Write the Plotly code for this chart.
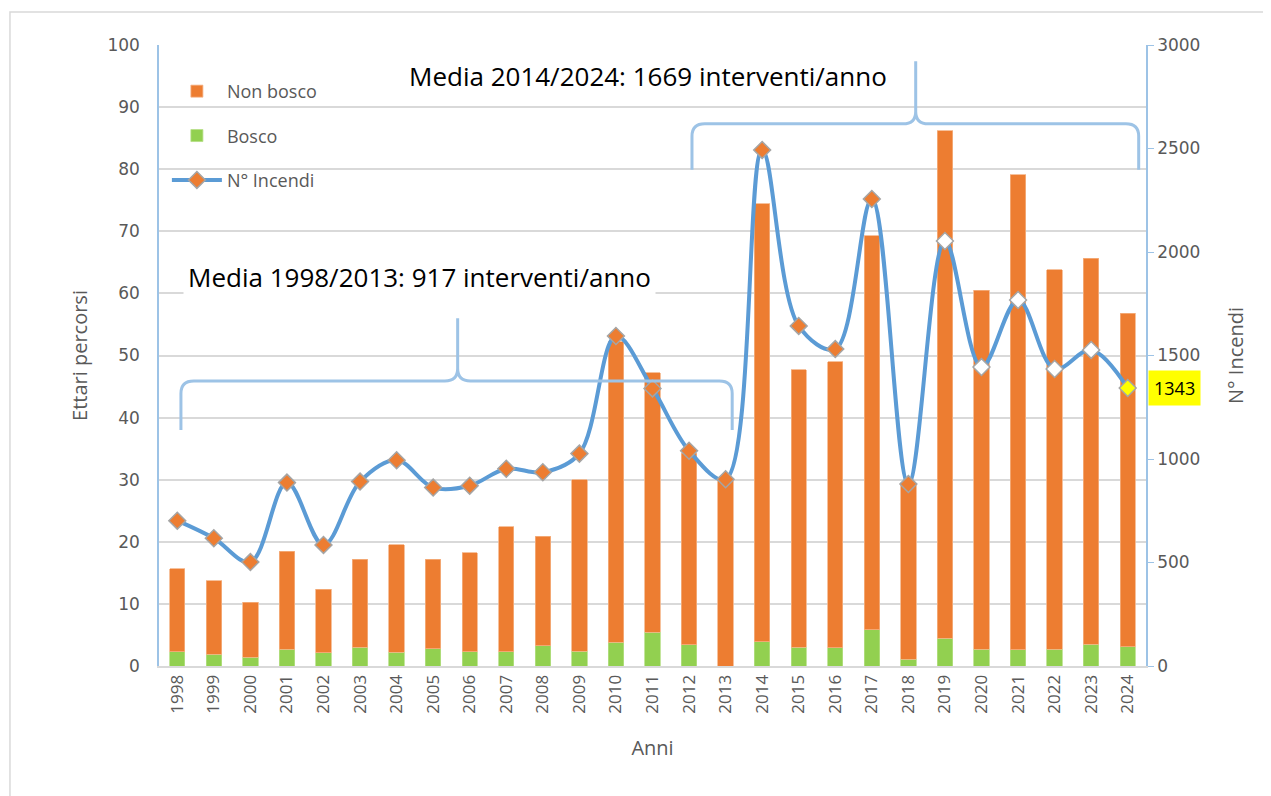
import plotly.graph_objects as go

# dati
anni = list(range(1998, 2025))
bosco = [2.3, 1.9, 1.4, 2.7, 2.1, 3.0, 2.2, 2.8, 2.3, 2.3, 3.3, 2.4, 3.8, 5.4, 3.4, 0.0,
         3.9, 3.0, 2.9, 5.8, 1.1, 4.5, 2.7, 2.6, 2.7, 3.5, 3.1]
totale = [15.7, 13.7, 10.3, 18.5, 12.4, 17.2, 19.5, 17.2, 18.2, 22.4, 20.9, 30.0, 52.2, 47.2, 34.3, 30.1,
          74.4, 47.7, 49.0, 69.3, 29.3, 86.2, 60.5, 79.1, 63.8, 65.7, 56.8]
non_bosco = [round(t - b, 1) for t, b in zip(totale, bosco)]
incendi = [702, 617, 502, 886, 585, 891, 994, 862, 871, 953, 936, 1026, 1594, 1341, 1040, 902,
           2493, 1643, 1531, 2256, 879, 2053, 1444, 1768, 1435, 1527, 1343]

testo_media1 = "Media 1998/2013: 917 interventi/anno"
testo_media2 = "Media 2014/2024: 1669 interventi/anno"

ARANCIO = '#ED7D31'
VERDE = '#92D050'
BLU = '#5B9BD5'
AZZURRO = '#9DC3E6'
GRIGIO = '#595959'

# colori marker: arancio fino al 2018, bianco dopo, giallo l'ultimo
col_marker = []
for a in anni:
    if a == anni[-1]:
        col_marker.append('#FFFF00')
    elif a >= 2019:
        col_marker.append('white')
    else:
        col_marker.append(ARANCIO)

fig = go.Figure()
fig.add_trace(go.Bar(x=anni, y=bosco, name='Bosco', marker_color=VERDE, width=0.42,
                     marker_line=dict(color='#B5DE85', width=0.8),
                     legendgroup='b', legendrank=2))
fig.add_trace(go.Bar(x=anni, y=non_bosco, name='Non bosco', marker_color=ARANCIO, width=0.42,
                     marker_line=dict(color='#F4B183', width=0.8),
                     legendgroup='nb', legendrank=1))
fig.add_trace(go.Scatter(x=anni, y=incendi, name='N° Incendi', yaxis='y2', mode='lines+markers',
                         line=dict(color=BLU, width=4, shape='spline', smoothing=1.0),
                         marker=dict(symbol='diamond', size=13, color=col_marker,
                                     line=dict(color='#A5A5A5', width=1.5)),
                         legendgroup='inc', legendrank=3))


def graffa(xa, xb, xm, yb, yh, yt, rx=0.35, ry=2.0):
    p = (f"M {xa},{yb} L {xa},{yh - ry} Q {xa},{yh} {xa + rx},{yh} "
         f"L {xm - rx},{yh} Q {xm},{yh} {xm},{yh + ry} L {xm},{yt} "
         f"M {xm},{yh + ry} Q {xm},{yh} {xm + rx},{yh} "
         f"L {xb - rx},{yh} Q {xb},{yh} {xb},{yh - ry} L {xb},{yb}")
    return dict(type='path', path=p, xref='x', yref='y', layer='above',
                line=dict(color=AZZURRO, width=3))


shapes = [
    graffa(1998.1, 2013.18, 2005.67, 38.0, 45.9, 56.0),
    graffa(2012.08, 2024.3, 2018.2, 79.9, 87.3, 97.4),
    dict(type='rect', xref='paper', yref='paper', x0=-0.151, x1=1.2, y0=-0.3, y1=1.053,
         line=dict(color='#D9D9D9', width=1.5), layer='below'),
]

annotations = [
    dict(x=2004.63, y=62.6, xref='x', yref='y', text=testo_media1, showarrow=False,
         font=dict(size=26, color='black', family='Open Sans'), bgcolor='white', borderpad=4),
    dict(x=2010.88, y=95.0, xref='x', yref='y', text=testo_media2, showarrow=False,
         font=dict(size=26, color='black', family='Open Sans'), bgcolor='white', borderpad=2),
    dict(x=1.002, y=incendi[-1], xref='paper', yref='y2', text=str(incendi[-1]),
         showarrow=False, xanchor='left', font=dict(size=18, color='black', family='Open Sans'),
         bgcolor='#FFFF00', borderpad=5),
]

fig.update_layout(
    width=1263, height=788,
    barmode='stack',
    plot_bgcolor='white', paper_bgcolor='white',
    margin=dict(l=151, r=125, t=37, b=130),
    font=dict(family='Open Sans', color=GRIGIO),
    showlegend=True,
    legend=dict(x=0.008, y=0.955, xanchor='left', yanchor='top', bgcolor='rgba(0,0,0,0)',
                font=dict(size=18, color=GRIGIO), tracegroupgap=18, itemwidth=50),
    xaxis=dict(range=[1997.5, 2024.5], tickmode='array', tickvals=anni, ticktext=[str(a) for a in anni],
               tickangle=-90, tickfont=dict(size=17, color=GRIGIO), showgrid=False,
               showline=True, linecolor='#D9D9D9', linewidth=2, ticks='',
               title=dict(text='Anni', font=dict(size=20, color=GRIGIO), standoff=28)),
    yaxis=dict(range=[0, 100], dtick=10, showgrid=True, gridcolor='#D9D9D9', gridwidth=1.5,
               showline=True, linecolor=AZZURRO, linewidth=1.5, zeroline=False,
               ticklabelstandoff=14,
               tickfont=dict(size=17, color=GRIGIO, family='DejaVu Sans'),
               title=dict(text='Ettari percorsi', font=dict(size=20, color=GRIGIO), standoff=14)),
    yaxis2=dict(range=[0, 3000], dtick=500, overlaying='y', side='right', showgrid=False,
                showline=True, linecolor=AZZURRO, linewidth=1.5, zeroline=False,
                ticks='outside', ticklen=6, tickcolor=AZZURRO,
                tickfont=dict(size=17, color=GRIGIO, family='DejaVu Sans'),
                title=dict(text='N° Incendi', font=dict(size=20, color=GRIGIO), standoff=30)),
    shapes=shapes,
    annotations=annotations,
)

fig.write_html("out.html")
